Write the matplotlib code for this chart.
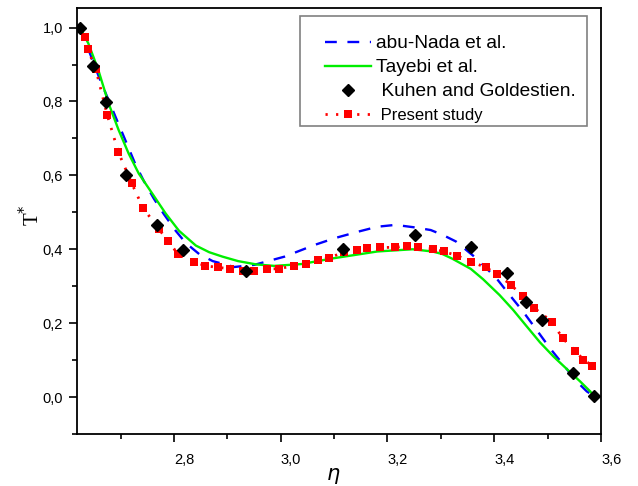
import matplotlib
matplotlib.use("Agg")
import matplotlib.pyplot as plt
from matplotlib.lines import Line2D
from matplotlib.patches import Rectangle
from matplotlib.ticker import MultipleLocator, FuncFormatter

# abu-Nada et al. (blue dashed)
nada_x = [2.624, 2.6617, 2.6932, 2.7089, 2.7277, 2.7434, 2.7623, 2.7811, 2.8032, 2.8221,
          2.8472, 2.8725, 2.913, 2.951, 3.007, 3.064, 3.101, 3.146, 3.181, 3.215, 3.252,
          3.281, 3.3032, 3.3283, 3.366, 3.4038, 3.429, 3.4542, 3.4792, 3.5045, 3.5296,
          3.5547, 3.5736, 3.586]
nada_y = [1.0, 0.858, 0.749, 0.695, 0.630, 0.585, 0.537, 0.495, 0.450, 0.417,
          0.387, 0.368, 0.352, 0.358, 0.380, 0.412, 0.430, 0.448, 0.461, 0.466, 0.459,
          0.452, 0.439, 0.421, 0.376, 0.322, 0.276, 0.231, 0.182, 0.132, 0.087,
          0.042, 0.015, 0.004]

# Tayebi et al. (green solid)
tay_x = [2.624, 2.6396, 2.6585, 2.6774, 2.6962, 2.7151, 2.734, 2.7592, 2.7843, 2.8094,
         2.841, 2.866, 2.891, 2.920, 2.954, 2.988, 3.039, 3.096, 3.181, 3.247, 3.284,
         3.303, 3.322, 3.356, 3.379, 3.410, 3.4353, 3.4604, 3.4857, 3.5108, 3.5358,
         3.5611, 3.580, 3.586]
tay_y = [1.0, 0.957, 0.884, 0.795, 0.723, 0.659, 0.605, 0.551, 0.497, 0.450,
         0.410, 0.392, 0.380, 0.368, 0.359, 0.355, 0.360, 0.375, 0.394, 0.400, 0.394,
         0.387, 0.374, 0.347, 0.319, 0.276, 0.236, 0.192, 0.148, 0.110, 0.076,
         0.042, 0.015, 0.004]

# Kuhen and Goldestien (black diamonds)
kuh_x = [2.624, 2.6485, 2.673, 2.711, 2.769, 2.816, 2.935, 3.116, 3.251, 3.357, 3.424, 3.460,
         3.490, 3.547, 3.586]
kuh_y = [1.0, 0.895, 0.798, 0.601, 0.466, 0.398, 0.340, 0.402, 0.439, 0.407, 0.335, 0.257,
         0.209, 0.066, 0.004]

# Present study (red squares, dotted)
pres_x = [2.633, 2.6385, 2.6536, 2.675, 2.696, 2.721, 2.742, 2.772, 2.789, 2.808, 2.838, 2.859,
          2.883, 2.9045, 2.929, 2.949, 2.975, 2.997, 3.0245, 3.047, 3.069, 3.091, 3.118, 3.143,
          3.162, 3.186, 3.215, 3.236, 3.257, 3.286, 3.305, 3.330, 3.357, 3.384, 3.406, 3.431,
          3.453, 3.475, 3.509, 3.528, 3.552, 3.567, 3.584]
pres_y = [0.975, 0.941, 0.887, 0.763, 0.662, 0.578, 0.512, 0.454, 0.422, 0.386, 0.366, 0.355,
          0.351, 0.347, 0.342, 0.341, 0.347, 0.347, 0.356, 0.359, 0.371, 0.377, 0.392, 0.398,
          0.403, 0.405, 0.405, 0.410, 0.405, 0.401, 0.394, 0.383, 0.366, 0.351, 0.332, 0.304,
          0.274, 0.241, 0.203, 0.159, 0.125, 0.101, 0.085]

labels = ["abu-Nada et al.", "Tayebi et al.", " Kuhen and Goldestien.", " Present study"]

W, H = 638, 486
fig = plt.figure(figsize=(W / 100, H / 100), dpi=100)
ax = fig.add_axes([77 / W, 1 - 434 / H, 524 / W, 426 / H])

BLUE, GREEN, RED = "#0000FF", "#00EE00", "#FF0000"
ax.plot(nada_x, nada_y, color=BLUE, lw=1.7, dashes=(5, 4.5))
ax.plot(tay_x, tay_y, color=GREEN, lw=1.7)
ax.plot(pres_x, pres_y, color=RED, lw=2.0, ls=(0, (0.8, 3)), marker="s",
        markersize=6.2, markeredgewidth=0)
ax.plot(kuh_x, kuh_y, ls="none", marker="D", color="black", markersize=6.5)

ax.set_xlim(2.6183, 3.6)
ax.set_ylim(-0.1, 1.053)

ax.xaxis.set_major_locator(MultipleLocator(0.2))
ax.xaxis.set_minor_locator(MultipleLocator(0.1))
ax.yaxis.set_major_locator(MultipleLocator(0.2))
ax.yaxis.set_minor_locator(MultipleLocator(0.1))
fmt = FuncFormatter(lambda v, p: f"{v:.1f}".replace(".", ",").replace("-0,0", "0,0"))
ax.xaxis.set_major_formatter(fmt)
ax.yaxis.set_major_formatter(fmt)
ax.tick_params(which="both", direction="out", top=False, right=False, width=1.2,
               labelsize=10.5)
ax.tick_params(axis="y", pad=4)
ax.tick_params(axis="x", pad=8)
ax.tick_params(which="major", length=6)
ax.tick_params(which="minor", length=3.5)
for lbl in ax.get_xticklabels() + ax.get_yticklabels():
    lbl.set_family("Liberation Sans")
for lbl in ax.get_xticklabels():
    lbl.set_horizontalalignment("left")
for s in ax.spines.values():
    s.set_linewidth(1.3)

ax.set_ylabel("T$^{*}$", fontsize=15, family="Liberation Serif")
ax.yaxis.set_label_coords(-0.063, 0.515)
ax.set_xlabel("$\\eta$", fontsize=15)
ax.xaxis.set_label_coords(0.489, -0.075)

handles = [
    Line2D([], [], color=BLUE, lw=1.7, dashes=(5, 4.5)),
    Line2D([], [], color=GREEN, lw=1.7),
    Line2D([], [], ls="none", marker="D", color="black", markersize=6.5),
    Line2D([], [], color=RED, lw=2.0, ls=(0, (0.8, 3)), marker="s",
           markersize=6.2, markeredgewidth=0),
]
leg = ax.legend(handles, labels, loc="upper left", frameon=False,
                bbox_to_anchor=(325 / W, 1 - 35 / H), bbox_transform=fig.transFigure,
                prop={"family": "Liberation Sans", "size": 13.8}, handlelength=2.4,
                handletextpad=0.27, labelspacing=0.34, borderpad=0, borderaxespad=0)
leg.get_texts()[3].set_fontsize(12)

frame = Rectangle((300 / W, 1 - 126 / H), 287 / W, 110 / H, transform=fig.transFigure,
                  facecolor="white", edgecolor="#808080", lw=1.2, zorder=4)
ax.add_artist(frame)
frame.set_clip_on(False)
leg.set_zorder(5)

fig.savefig("out.png", dpi=100)
